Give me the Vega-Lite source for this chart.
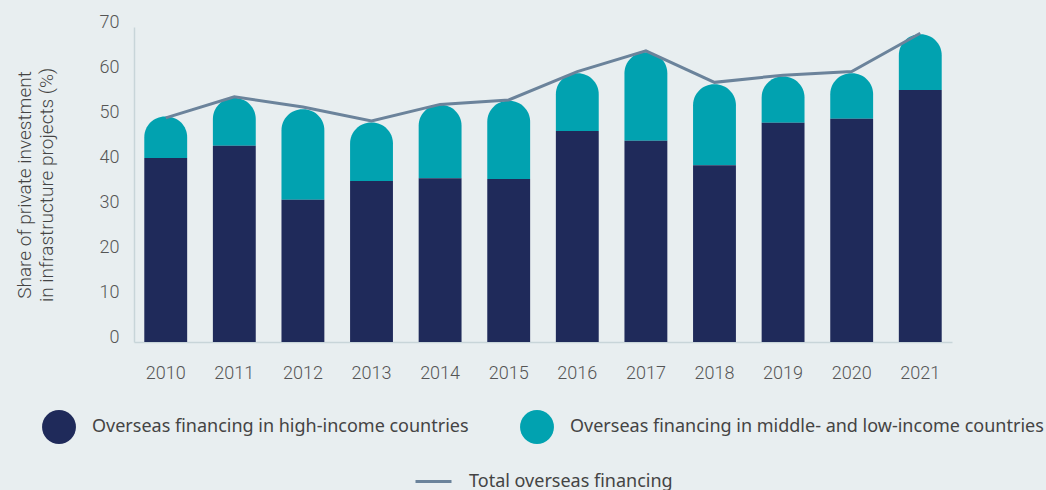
{
  "$schema": "https://vega.github.io/schema/vega-lite/v6.json",
  "width": 818,
  "height": 315,
  "autosize": {"type": "none"},
  "padding": {"left": 134, "top": 27, "right": 94, "bottom": 148},
  "background": "#e8eef0",
  "config": {
    "view": {"stroke": null},
    "font": "Roboto",
    "axis": {"labelFont": "Roboto", "labelFontSize": 18, "labelFontWeight": 300, "labelColor": "#555555", "domainColor": "#c8d5d9", "domainWidth": 1.5, "ticks": false, "grid": false},
    "legend": {"labelFont": "Noto Sans", "labelFontSize": 18, "labelColor": "#444444", "labelLimit": 0}
  },
  "data": {
    "values": [
      {"year": "2010", "high": 40.9, "bar_total": 50.1, "total": 49.8},
      {"year": "2011", "high": 43.6, "bar_total": 54.2, "total": 54.5},
      {"year": "2012", "high": 31.6, "bar_total": 51.7, "total": 52.2},
      {"year": "2013", "high": 35.8, "bar_total": 48.8, "total": 49.1},
      {"year": "2014", "high": 36.4, "bar_total": 52.7, "total": 52.8},
      {"year": "2015", "high": 36.2, "bar_total": 53.6, "total": 53.8},
      {"year": "2016", "high": 46.9, "bar_total": 59.7, "total": 60.1},
      {"year": "2017", "high": 44.7, "bar_total": 64.4, "total": 64.7},
      {"year": "2018", "high": 39.3, "bar_total": 57.3, "total": 57.7},
      {"year": "2019", "high": 48.7, "bar_total": 59.0, "total": 59.3},
      {"year": "2020", "high": 49.6, "bar_total": 59.7, "total": 60.1},
      {"year": "2021", "high": 56.0, "bar_total": 68.4, "total": 68.6}
    ]
  },
  "encoding": {
    "x": {
      "field": "year",
      "type": "ordinal",
      "scale": {"paddingInner": 0.375, "paddingOuter": 0.15},
      "axis": {"title": null, "labelAngle": 0, "labelPadding": 22}
    }
  },
  "layer": [
    {
      "mark": {"type": "bar", "cornerRadiusTopLeft": 21, "cornerRadiusTopRight": 21},
      "encoding": {
        "y": {"field": "bar_total", "type": "quantitative"},
        "y2": {"field": "high"},
        "color": {"datum": "Overseas financing in middle- and low-income countries"}
      }
    },
    {
      "mark": {"type": "bar"},
      "encoding": {
        "y": {
          "field": "high",
          "type": "quantitative",
          "scale": {"domain": [0, 70], "nice": false},
          "axis": {
            "title": ["Share of private investment", "in infrastructure projects (%)"],
            "titleFont": "Roboto",
            "titleFontSize": 19,
            "titleFontWeight": 300,
            "titleColor": "#444444",
            "titleLineHeight": 22,
            "titlePadding": 43,
            "values": [0, 10, 20, 30, 40, 50, 60, 70],
            "labelPadding": 15,
            "labelOffset": -5
          }
        },
        "color": {
          "datum": "Overseas financing in high-income countries",
          "scale": {
            "domain": ["Overseas financing in high-income countries", "Overseas financing in middle- and low-income countries"],
            "range": ["#1f2a5a", "#01a2b0"]
          },
          "legend": {
            "title": null,
            "orient": "none",
            "legendX": -92,
            "legendY": 383,
            "direction": "horizontal",
            "symbolType": "circle",
            "symbolSize": 1150,
            "symbolStrokeWidth": 0,
            "symbolOpacity": 1,
            "labelOffset": 16,
            "columnPadding": 51
          }
        }
      }
    },
    {
      "mark": {"type": "line", "strokeWidth": 3},
      "encoding": {
        "y": {"field": "total", "type": "quantitative"},
        "stroke": {
          "datum": "Total overseas financing",
          "scale": {"range": ["#6b839b"]},
          "legend": {
            "title": null,
            "orient": "none",
            "legendX": 280,
            "legendY": 435,
            "symbolType": "stroke",
            "symbolSize": 1296,
            "symbolStrokeWidth": 3,
            "labelOffset": 16
          }
        }
      }
    }
  ]
}
